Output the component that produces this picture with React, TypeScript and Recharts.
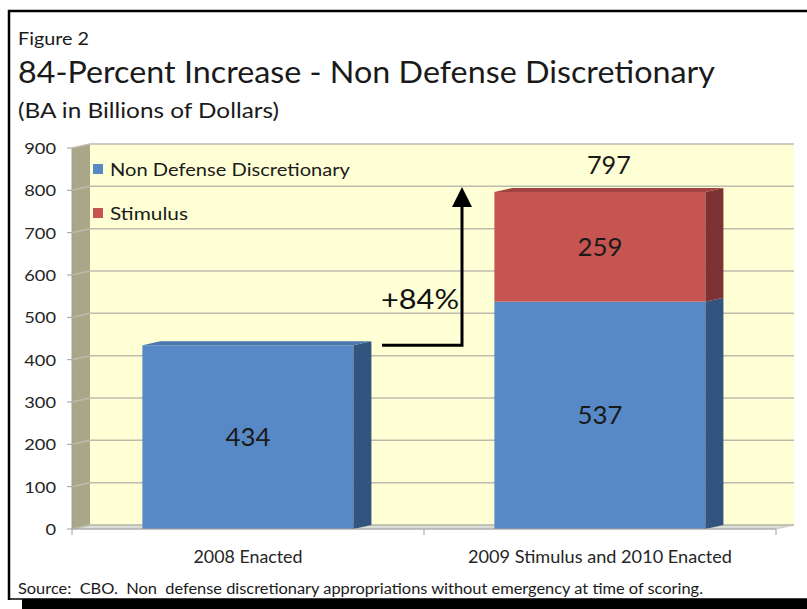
import React from 'react';
import {
  BarChart,
  Bar,
  XAxis,
  YAxis,
  CartesianGrid,
  LabelList,
  Legend,
  ReferenceArea,
  ReferenceLine,
} from 'recharts';

// ---- data ----
const categories = ['2008 Enacted', '2009 Stimulus and 2010 Enacted'];
const nonDefenseValues = [434, 537];
const stimulusValues: (number | null)[] = [null, 259];
const totalLabels: (number | null)[] = [null, 797];
const yTicks = [0, 100, 200, 300, 400, 500, 600, 700, 800, 900];
const seriesNames = ['Non Defense Discretionary', 'Stimulus'];
const arrowFrom = 434;
const arrowTo = 808;
const arrowLabel = '+84%';

const data = categories.map((c, i) => ({
  category: c,
  nonDefense: nonDefenseValues[i],
  stimulus: stimulusValues[i],
  total: totalLabels[i],
}));

// ---- styling ----
const FONT = 'Lato, "Open Sans", sans-serif';
const DX = 18;
const DY = 4;
const BLUE = '#5689c5';
const BLUE_SIDE = '#33547f';
const BLUE_TOP = '#4a77ad';
const RED = '#c65552';
const RED_SIDE = '#7c3232';
const RED_TOP = '#a34341';
const WALL_BACK = '#ffffd6';
const WALL_LEFT = '#a9a787';
const GRID = '#bcbcae';

const W = 807;
const H = 609;

const Walls = (props: any) => {
  const { x, y, width, height } = props;
  const b = y + height;
  return (
    <g>
      <rect x={x + DX} y={y - DY} width={width} height={height} fill={WALL_BACK} />
      <polygon
        points={`${x},${y} ${x + DX},${y - DY} ${x + DX},${b - DY} ${x},${b}`}
        fill={WALL_LEFT}
      />
      <polygon
        points={`${x},${b} ${x + DX},${b - DY} ${x + width + DX},${b - DY} ${x + width},${b}`}
        fill="#dcdcd6"
        stroke="#c4c4bc"
        strokeWidth={0.8}
      />
      {[0, 0.5, 1].map((f) => (
        <line
          key={f}
          x1={x + width * f}
          x2={x + width * f}
          y1={b}
          y2={b + 6}
          stroke="#a0a0a0"
          strokeWidth={1}
        />
      ))}
    </g>
  );
};

const GridLine = (props: any) => {
  const { x1, x2, y1, key } = props;
  return (
    <polyline
      key={key}
      points={`${x1},${y1} ${x1 + DX},${y1 - DY} ${x2 + DX},${y1 - DY}`}
      fill="none"
      stroke={GRID}
      strokeWidth={1.5}
    />
  );
};

const make3DBar = (front: string, side: string, top: string, isTopSeries: boolean) => (props: any) => {
  const { x, y, width, height, payload } = props;
  if (!height || height <= 0) return <g />;
  const showTop = isTopSeries || payload.stimulus == null;
  return (
    <g>
      <rect x={x} y={y} width={width} height={height} fill={front} />
      <polygon
        points={`${x + width},${y} ${x + width + DX},${y - DY} ${x + width + DX},${y + height - DY} ${x + width},${y + height}`}
        fill={side}
      />
      {showTop && (
        <polygon
          points={`${x},${y} ${x + DX},${y - DY} ${x + width + DX},${y - DY} ${x + width},${y}`}
          fill={top}
        />
      )}
    </g>
  );
};

const CenterLabel = (props: any) => {
  const { x, y, width, height, value } = props;
  if (value == null) return null;
  return (
    <text
      x={x + width / 2}
      y={y + height / 2 + 9}
      textAnchor="middle"
      fontFamily={FONT}
      fontSize={25}
      fill="#1a1a1a"
      textLength={45}
      lengthAdjust="spacingAndGlyphs"
    >
      {value}
    </text>
  );
};

const TotalLabel = (props: any) => {
  const { x, y, width, value } = props;
  if (value == null) return null;
  return (
    <text
      x={x + width / 2 + DX / 2}
      y={y - 18}
      textAnchor="middle"
      fontFamily={FONT}
      fontSize={25}
      fill="#1a1a1a"
      textLength={44}
      lengthAdjust="spacingAndGlyphs"
    >
      {value}
    </text>
  );
};

const YTick = (props: any) => {
  const { x, y, payload } = props;
  const s = String(payload.value);
  return (
    <text
      x={x}
      y={y + 6}
      textAnchor="end"
      fontFamily={FONT}
      fontSize={16}
      fill="#262626"
      textLength={s.length * 10.6}
      lengthAdjust="spacingAndGlyphs"
    >
      {s}
    </text>
  );
};

const XTick = (props: any) => {
  const { x, y, payload } = props;
  const s = String(payload.value);
  return (
    <text
      x={x}
      y={y + 26}
      textAnchor="middle"
      fontFamily={FONT}
      fontSize={17}
      fill="#262626"
      textLength={s.length > 15 ? 264 : 109}
      lengthAdjust="spacingAndGlyphs"
    >
      {s}
    </text>
  );
};

const ArrowShape = (props: any) => {
  const { x1, y1, x2, y2 } = props;
  const startX = x1 + 134;
  const endX = x2 - 138;
  const tipY = Math.min(y1, y2);
  const baseY = Math.max(y1, y2);
  return (
    <g>
      <path
        d={`M ${startX} ${baseY} H ${endX} V ${tipY + 18}`}
        fill="none"
        stroke="#000"
        strokeWidth={3}
      />
      <polygon
        points={`${endX - 10},${tipY + 20} ${endX},${tipY} ${endX + 10},${tipY + 20}`}
        fill="#000"
      />
      <text
        x={(startX + endX) / 2 - 2}
        y={baseY - 36}
        textAnchor="middle"
        fontFamily={FONT}
        fontSize={27}
        fill="#111"
        textLength={78}
        lengthAdjust="spacingAndGlyphs"
      >
        {arrowLabel}
      </text>
    </g>
  );
};

const LegendContent = (props: any) => {
  const payload = props.payload || [];
  const widths = [240, 78];
  return (
    <svg width={260} height={70} style={{ display: 'block', overflow: 'visible' }}>
      {payload.map((p: any, i: number) => (
        <g key={i} transform={`translate(0, ${i * 44})`}>
          <rect x={3} y={9} width={10} height={10} fill={p.color} />
          <text
            x={20}
            y={21}
            fontFamily={FONT}
            fontSize={18}
            fill="#1a1a1a"
            textLength={widths[i] ?? undefined}
            lengthAdjust="spacingAndGlyphs"
          >
            {p.value}
          </text>
        </g>
      ))}
    </svg>
  );
};

const Frame = () => (
  <svg
    width={W}
    height={H}
    style={{ position: 'absolute', left: 0, top: 0, pointerEvents: 'none' }}
  >
    <text x={18} y={45} fontFamily={FONT} fontSize={18} fill="#1a1a1a" textLength={71} lengthAdjust="spacingAndGlyphs">
      Figure 2
    </text>
    <text x={18} y={83} fontFamily={FONT} fontSize={31} fill="#1a1a1a" textLength={697} lengthAdjust="spacingAndGlyphs">
      84-Percent Increase - Non Defense Discretionary
    </text>
    <text x={18} y={118} fontFamily={FONT} fontSize={22} fill="#1a1a1a" textLength={261} lengthAdjust="spacingAndGlyphs">
      (BA in Billions of Dollars)
    </text>
    <text
      x={18}
      y={594}
      fontFamily={FONT}
      fontSize={14.5}
      fill="#1a1a1a"
      textLength={685}
      lengthAdjust="spacingAndGlyphs"
      style={{ whiteSpace: 'pre' }}
    >
      {'Source:  CBO.  Non  defense discretionary appropriations without emergency at time of scoring.'}
    </text>
    <line x1={8} y1={11} x2={W} y2={11} stroke="#000" strokeWidth={2.5} />
    <line x1={9} y1={10} x2={9} y2={600} stroke="#000" strokeWidth={2.5} />
    <line x1={8} y1={599} x2={W} y2={599} stroke="#000" strokeWidth={1.5} />
    <rect x={22} y={599} width={W - 22} height={H - 599} fill="#000" />
  </svg>
);

export default function App() {
  return (
    <div style={{ position: 'absolute', left: 0, top: 0, width: W, height: H, background: '#fff', overflow: 'hidden' }}>
      <BarChart
        width={W}
        height={H}
        data={data}
        margin={{ top: 148, right: 31, bottom: 50, left: 22 }}
        barCategoryGap="20%"
      >
        <ReferenceArea y1={0} y2={900} shape={Walls} zIndex={-200} ifOverflow="visible" />
        <CartesianGrid vertical={false} horizontal={GridLine} />
        <XAxis
          dataKey="category"
          tickLine={false}
          axisLine={{ stroke: '#a0a0a0', strokeWidth: 1 }}
          tick={XTick}
          height={30}
          interval={0}
        />
        <YAxis
          domain={[0, 900]}
          ticks={yTicks}
          width={50}
          tickSize={5}
          tickMargin={11}
          axisLine={{ stroke: '#a0a0a0', strokeWidth: 1 }}
          tickLine={{ stroke: '#a0a0a0', strokeWidth: 1 }}
          tick={YTick}
          interval={0}
        />
        <Legend
          layout="vertical"
          verticalAlign="middle"
          align="center"
          content={LegendContent}
          wrapperStyle={{ position: 'absolute', left: 90, top: 155, width: 260, height: 70 }}
        />
        <Bar
          dataKey="nonDefense"
          name={seriesNames[0]}
          stackId="a"
          fill={BLUE}
          isAnimationActive={false}
          shape={make3DBar(BLUE, BLUE_SIDE, BLUE_TOP, false)}
        >
          <LabelList dataKey="nonDefense" content={CenterLabel} />
        </Bar>
        <Bar
          dataKey="stimulus"
          name={seriesNames[1]}
          stackId="a"
          fill={RED}
          isAnimationActive={false}
          shape={make3DBar(RED, RED_SIDE, RED_TOP, true)}
        >
          <LabelList dataKey="stimulus" content={CenterLabel} />
          <LabelList dataKey="total" content={TotalLabel} />
        </Bar>
        <ReferenceLine
          segment={[
            { x: categories[0], y: arrowFrom },
            { x: categories[1], y: arrowTo },
          ]}
          shape={ArrowShape}
          ifOverflow="visible"
        />
      </BarChart>
      <Frame />
    </div>
  );
}
